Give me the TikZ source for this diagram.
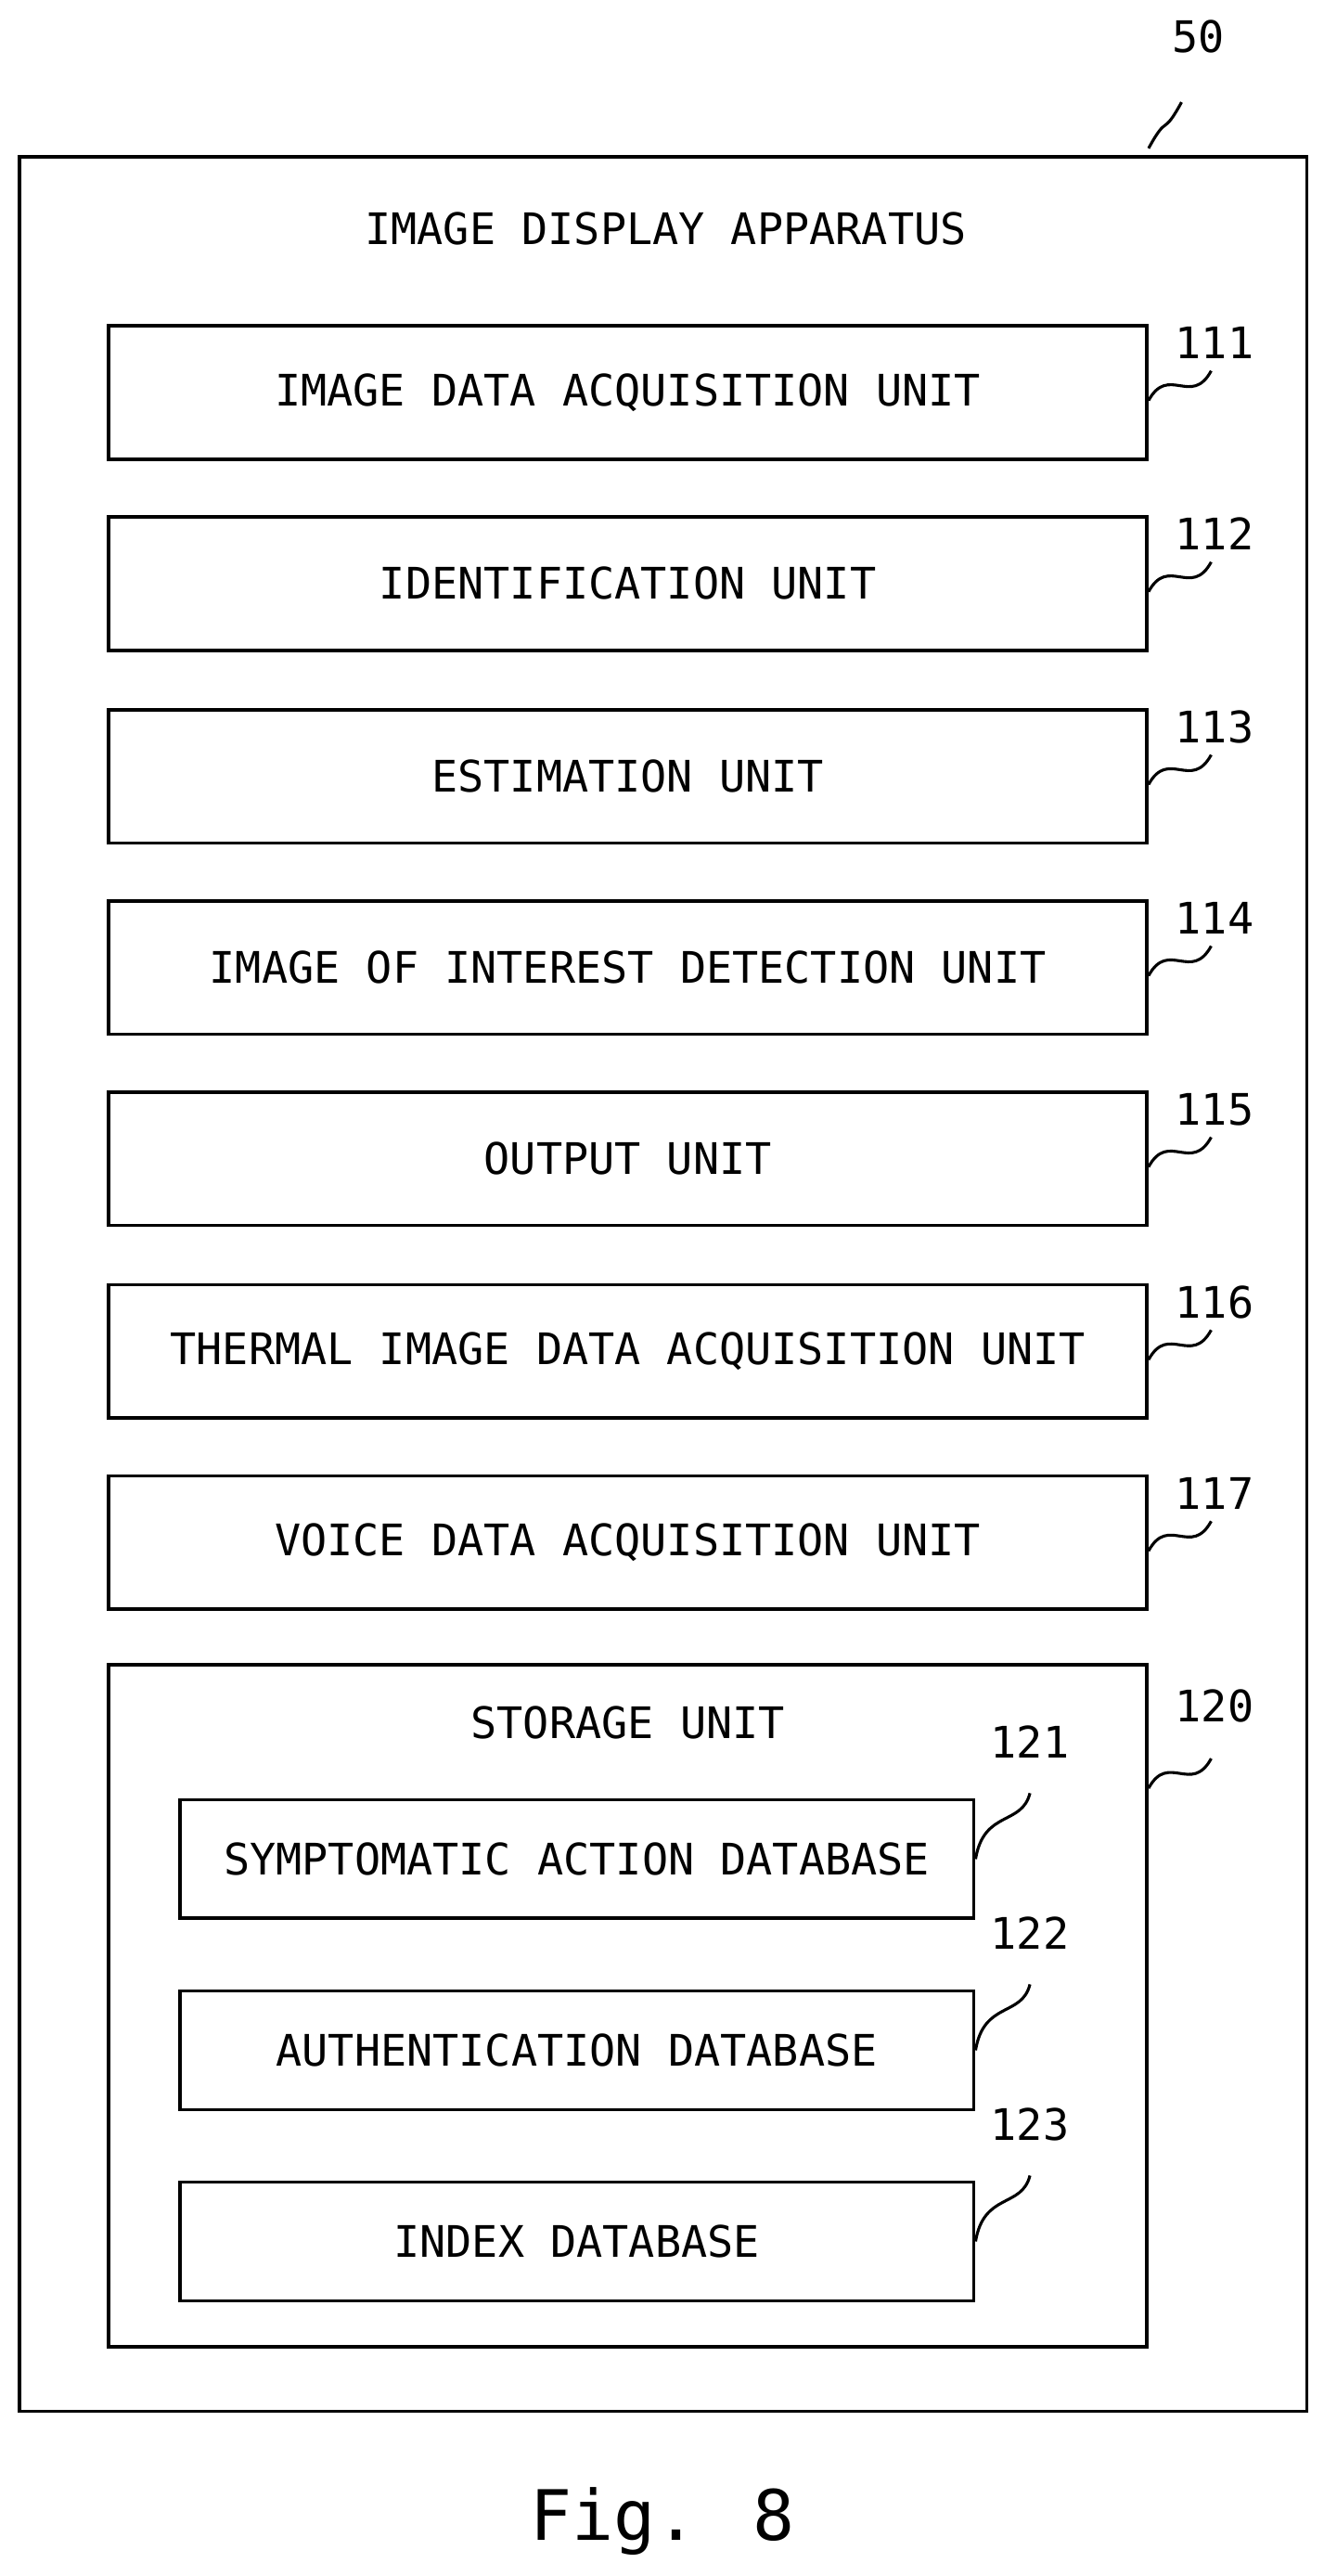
\documentclass[tikz,border=0pt]{standalone}
\usepackage{fontspec}
\setmainfont{DejaVu Sans Mono}
\begin{document}
\begin{tikzpicture}[x=0.02cm,y=-0.02cm,
    unit/.style={draw,line width=1.2pt,minimum width=12.6cm,minimum height=1.62cm,font=\fontsize{15}{18}\selectfont},
    sub/.style={draw,line width=1.2pt,minimum width=9.64cm,minimum height=1.44cm,font=\fontsize{15}{18}\selectfont},
    ref/.style={font=\fontsize{15}{18}\selectfont},
    squig/.style={line width=1pt}]
    \useasboundingbox (0,0) rectangle (803,1563);
    \def \boxx {381}; % centre of the unit boxes
    % outer apparatus
    \draw[line width=1.2pt] (12,95) rectangle (793,1463);
    \node[ref] (title) at (404,139) {IMAGE DISPLAY APPARATUS};
    \node[ref] (r50) at (727,22) {50};
    \coordinate (c50) at (697,90);
    \draw[squig] (c50) .. controls +(12,-22) and +(-12,22) .. +(20,-28);
    % units 111..117
    \foreach \n/\y/\txt in {111/238/IMAGE DATA ACQUISITION UNIT,
                            112/354/IDENTIFICATION UNIT,
                            113/471/ESTIMATION UNIT,
                            114/587/IMAGE OF INTEREST DETECTION UNIT,
                            115/703/OUTPUT UNIT,
                            116/820/THERMAL IMAGE DATA ACQUISITION UNIT,
                            117/936/VOICE DATA ACQUISITION UNIT}
    {
    \node[unit] (u\n) at (\boxx,\y) {\txt};
    \node[ref] (r\n) at (737,\y-30) {\n};
    \draw[squig] ([yshift=-0.1cm]u\n.east) .. controls +(12,-22) and +(-12,22) .. +(38,-18);
    }
    % storage unit
    \draw[line width=1.2pt] (66,1010) rectangle (696,1424);
    \node[ref] (store) at (\boxx,1045) {STORAGE UNIT};
    \node[ref] (r120) at (737,1035) {120};
    \coordinate (c120) at (697,1085);
    \draw[squig] (c120) .. controls +(12,-22) and +(-12,22) .. +(38,-18);
    \foreach \n/\y/\txt in {121/1128/SYMPTOMATIC ACTION DATABASE,
                            122/1244/AUTHENTICATION DATABASE,
                            123/1360/INDEX DATABASE}
    {
    \node[sub] (d\n) at (350,\y) {\txt};
    \node[ref] (r\n) at (625,\y-71) {\n};
    \draw[squig] (d\n.east) .. controls +(5,-30) and +(-5,20) .. +(33,-40);
    }
    \node[font=\fontsize{24}{28}\selectfont] (fig) at (402,1530) {Fig. 8};
\end{tikzpicture}
\end{document}
